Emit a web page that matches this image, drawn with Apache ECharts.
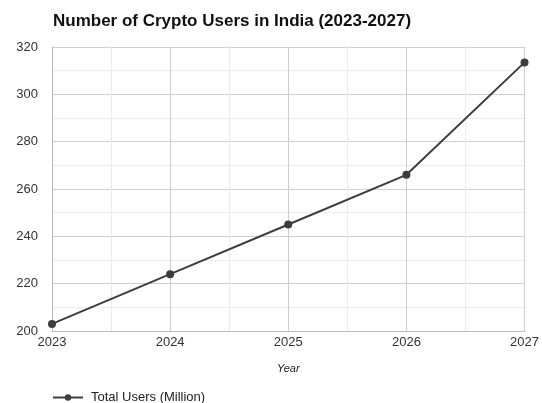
<!DOCTYPE html>
<html>
<head>
<meta charset="utf-8">
<script src="https://cdn.jsdelivr.net/npm/echarts@6/dist/echarts.min.js"></script>
<style>
  html, body { margin: 0; padding: 0; background: #fff; }
  #chart { width: 542px; height: 403px; }
</style>
</head>
<body>
<div id="chart"></div>
<script>
  // data
  var years = [2023, 2024, 2025, 2026, 2027];
  var totalUsers = [203, 224, 245, 266, 313.5];
  var seriesName = 'Total Users (Million)';

  var points = years.map(function(y, i) { return [y, totalUsers[i]]; });

  var myChart = echarts.init(document.getElementById('chart'));
  var option = {
    animation: false,
    textStyle: { fontFamily: 'Liberation Sans, Arial, sans-serif' },
    title: {
      text: 'Number of Crypto Users in India (2023-2027)',
      left: 48,
      top: 8,
      textStyle: { fontSize: 17, fontWeight: 'bold', color: '#111' }
    },
    grid: { left: 52, right: 17, top: 47, bottom: 72, containLabel: false },
    legend: {
      data: [seriesName],
      left: 47,
      top: 386,
      itemWidth: 30,
      itemHeight: 8,
      itemGap: 10,
      textStyle: { fontSize: 13, color: '#222', padding: [0, 0, 0, 3] }
    },
    xAxis: {
      type: 'value',
      min: 2023,
      max: 2027,
      interval: 1,
      name: 'Year',
      nameLocation: 'middle',
      nameGap: 32,
      nameTextStyle: { fontStyle: 'italic', fontSize: 11, color: '#222' },
      axisLine: { lineStyle: { color: '#bbb' } },
      axisTick: { show: false },
      axisLabel: { color: '#333', fontSize: 13, margin: 5, formatter: function(v) { return String(v); } },
      splitLine: { show: true, lineStyle: { color: '#cfcfcf' } },
      minorTick: { show: false, splitNumber: 2 },
      minorSplitLine: { show: true, lineStyle: { color: '#ececec' } }
    },
    yAxis: {
      type: 'value',
      min: 200,
      max: 320,
      interval: 20,
      axisLine: { show: true, lineStyle: { color: '#bbb' } },
      axisTick: { show: false },
      axisLabel: { color: '#333', fontSize: 13, margin: 14 },
      splitLine: { show: true, lineStyle: { color: '#cfcfcf' } },
      minorTick: { show: false, splitNumber: 2 },
      minorSplitLine: { show: true, lineStyle: { color: '#ececec' } }
    },
    series: [{
      name: seriesName,
      type: 'line',
      data: points,
      symbol: 'circle',
      symbolSize: 8,
      lineStyle: { color: '#3d3d3d', width: 2 },
      itemStyle: { color: '#3d3d3d' }
    }]
  };
  myChart.setOption(option);
</script>
</body>
</html>
